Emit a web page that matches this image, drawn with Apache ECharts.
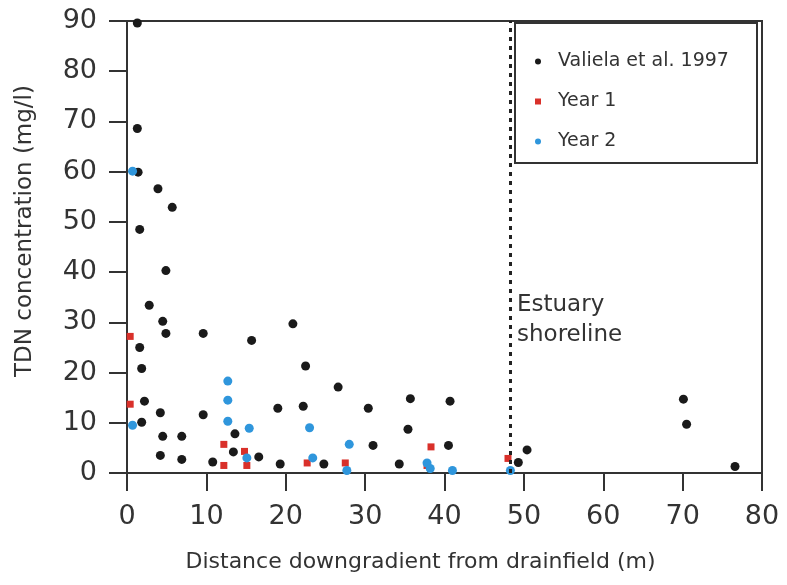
<!DOCTYPE html>
<html><head><meta charset="utf-8">
<script src="https://cdn.jsdelivr.net/npm/echarts@6/dist/echarts.min.js"></script>
<style>html,body{margin:0;padding:0;background:#fff}#c{width:787px;height:585px}</style>
</head><body><div id="c"></div>
<script>
// Valiela et al. 1997
const valielaX = [1.3, 1.3, 1.4, 3.9, 5.7, 1.6, 4.9, 2.8, 4.5, 4.9, 9.6, 15.7, 1.6, 1.85, 2.2, 4.2, 9.6, 1.85, 13.6, 4.5, 6.9, 4.2, 13.4, 6.9, 16.6, 10.8, 20.9, 22.5, 26.6, 19.0, 22.2, 30.4, 35.7, 40.7, 35.4, 31.0, 40.5, 50.4, 19.3, 24.8, 34.3, 49.3, 70.1, 70.5, 76.6];
const valielaY = [89.6, 68.6, 59.9, 56.6, 52.9, 48.5, 40.3, 33.4, 30.2, 27.8, 27.8, 26.4, 25.0, 20.8, 14.3, 12.0, 11.6, 10.1, 7.8, 7.3, 7.3, 3.5, 4.2, 2.7, 3.2, 2.2, 29.7, 21.3, 17.1, 12.9, 13.3, 12.9, 14.8, 14.3, 8.7, 5.5, 5.5, 4.6, 1.8, 1.8, 1.8, 2.1, 14.7, 9.7, 1.3];
// Year 1
const year1X = [0.4, 0.4, 12.2, 14.8, 12.2, 15.1, 22.7, 27.5, 38.3, 37.8, 48.0];
const year1Y = [27.2, 13.7, 5.7, 4.3, 1.5, 1.5, 2.0, 2.0, 5.2, 1.5, 2.9];
// Year 2
const year2X = [0.7, 0.7, 12.7, 12.7, 12.7, 15.4, 15.1, 23.0, 23.4, 28.0, 27.7, 37.8, 38.2, 41.0, 48.3];
const year2Y = [60.1, 9.5, 18.3, 14.5, 10.3, 8.9, 3.0, 9.0, 3.0, 5.7, 0.5, 2.0, 0.9, 0.5, 0.5];

const seriesNames = ['Valiela et al. 1997', 'Year 1', 'Year 2'];
const shorelineX = 48.3;
const shorelineLabel = 'Estuary\nshoreline';
const xTitle = 'Distance downgradient from drainfield (m)';
const yTitle = 'TDN concentration (mg/l)';

const zip = (xs, ys) => xs.map((x, i) => [x, ys[i]]);
const FONT = '"DejaVu Sans", sans-serif';
const AX = '#333';

const chart = echarts.init(document.getElementById('c'), null, {renderer: 'canvas'});
chart.setOption({
  animation: false,
  backgroundColor: '#fff',
  grid: {
    left: 127, right: 25, top: 21, bottom: 112,
    show: true, borderColor: AX, borderWidth: 2,
    containLabel: false, outerBoundsMode: 'none'
  },
  xAxis: {
    type: 'value', min: 0, max: 80, interval: 10,
    name: xTitle, nameLocation: 'middle', nameGap: 78,
    nameTextStyle: {fontFamily: FONT, fontSize: 22, color: AX, padding: [0, 48, 0, 0]},
    axisLine: {show: true, onZero: false, lineStyle: {color: AX, width: 2}},
    axisTick: {show: true, inside: false, length: 18, lineStyle: {color: AX, width: 2}},
    axisLabel: {fontFamily: FONT, fontSize: 27, color: AX, margin: 30},
    splitLine: {show: false}
  },
  yAxis: {
    type: 'value', min: 0, max: 90, interval: 10,
    name: yTitle, nameLocation: 'middle', nameGap: 90,
    nameTextStyle: {fontFamily: FONT, fontSize: 23, color: AX, padding: [0, 0, 0, 32]},
    axisLine: {show: true, onZero: false, lineStyle: {color: AX, width: 2}},
    axisTick: {show: true, inside: false, length: 18, lineStyle: {color: AX, width: 2}},
    axisLabel: {fontFamily: FONT, fontSize: 27, color: AX, margin: 30},
    splitLine: {show: false}
  },
  legend: {
    data: seriesNames,
    orient: 'vertical',
    left: 535, top: 52, padding: 0,
    itemWidth: 6, itemHeight: 6, itemGap: 21,
    textStyle: {fontFamily: FONT, fontSize: 19, lineHeight: 19, color: AX, padding: [0, 0, 0, 12]}
  },
  graphic: [
    {type: 'rect', shape: {x: 515, y: 23, width: 242, height: 140},
     style: {fill: 'none', stroke: AX, lineWidth: 2}, silent: true},
    {type: 'text', left: 517, top: 290,
     style: {text: shorelineLabel, font: '23px ' + FONT, fill: AX, lineHeight: 30}, silent: true}
  ],
  series: [
    {
      name: seriesNames[0], type: 'scatter', symbol: 'circle', symbolSize: 9,
      itemStyle: {color: '#1a1a1a', opacity: 1},
      data: zip(valielaX, valielaY),
      markLine: {
        silent: true, symbol: ['none', 'none'], label: {show: false},
        lineStyle: {color: '#222', width: 3, type: [4, 5]},
        data: [{xAxis: shorelineX}]
      }
    },
    {
      name: seriesNames[1], type: 'scatter', symbol: 'rect', symbolSize: 7,
      itemStyle: {color: '#d9302a', opacity: 1},
      data: zip(year1X, year1Y)
    },
    {
      name: seriesNames[2], type: 'scatter', symbol: 'circle', symbolSize: 9,
      itemStyle: {color: '#2f96dc', opacity: 1},
      data: zip(year2X, year2Y)
    }
  ]
});
</script></body></html>
